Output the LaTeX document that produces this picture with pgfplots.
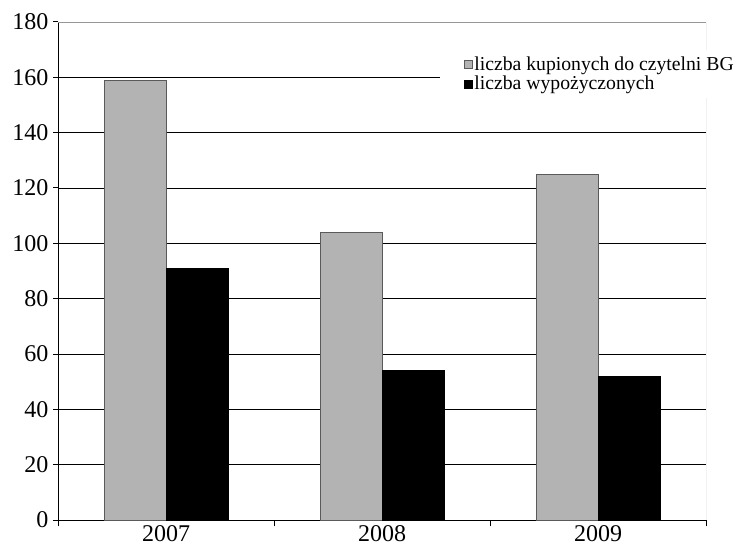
\documentclass[border=0pt]{standalone}
\usepackage{pgfplots}
\pgfplotsset{compat=1.18}
\usepackage{fontspec}
\setmainfont{Liberation Serif}
\definecolor{bargray}{RGB}{179,179,179}
\definecolor{edgegray}{RGB}{90,90,90}
\definecolor{framegray}{RGB}{150,150,150}
\begin{document}
\begin{tikzpicture}
\begin{axis}[
  scale only axis,
  width=648pt, height=498pt,
  xmin=-0.5, xmax=2.5,
  ymin=0, ymax=180,
  ytick={0,20,...,180},
  xtick={0,1,2},
  xticklabels={2007,2008,2009},
  minor xtick={-0.5,0.5,1.5,2.5},
  axis x line*=bottom,
  axis y line*=left,
  axis line style={-, black, line width=1pt},
  xtick align=outside, ytick align=outside,
  major x tick style={draw=none},
  minor x tick style={black, line width=1pt},
  major y tick style={black, line width=1pt},
  minor tick length=6pt,
  major tick length=5pt,
  ymajorgrids,
  grid style={black, line width=0.8pt},
  ybar, bar width=0.287, 
  tick label style={font=\fontsize{24}{26}\selectfont},
  /pgf/number format/assume math mode=true,
  yticklabel style={xshift=-1pt},
  xticklabel style={yshift=3pt},
  legend style={at={(0.5895,0.944)}, anchor=north west, draw=none, fill=white,
    font=\fontsize{19.7}{21}\selectfont, inner xsep=12pt, inner ysep=5pt, row sep=0pt,
    cells={anchor=west}, nodes={inner xsep=1.5pt}},
  legend image code/.code={\path (0pt,0pt); \draw[#1, line width=0.6pt] (12pt,-4pt) rectangle (20pt,4pt);},
]
\addplot[fill=bargray, draw=edgegray, line width=0.8pt, bar shift=-0.1435] coordinates {(0,159) (1,104) (2,125)};
\addplot[fill=black, draw=black, line width=0.8pt, bar shift=0.1435] coordinates {(0,91) (1,54) (2,52)};
\draw[framegray, line width=0.8pt] (rel axis cs:0,1) -- (rel axis cs:1,1) -- (rel axis cs:1,0);
\legend{liczba kupionych do czytelni BG, liczba wypożyczonych}
\end{axis}
\pgfresetboundingbox
\path (current axis.south west) ++(-58pt,-26pt) coordinate (bbsw);
\path (current axis.north east) ++(34pt,22pt) coordinate (bbne);
\useasboundingbox (bbsw) rectangle (bbne);
\end{tikzpicture}
\end{document}
